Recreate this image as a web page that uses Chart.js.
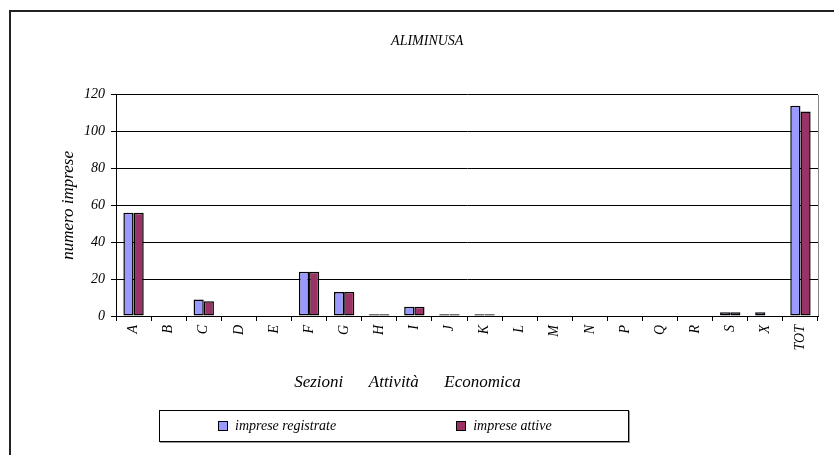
<!DOCTYPE html>
<html>
<head>
<meta charset="utf-8">
<script src="https://cdn.jsdelivr.net/npm/chart.js@4"></script>
<style>
  html, body { margin: 0; padding: 0; background: #fff; overflow: hidden; }
  #frame { position: absolute; left: 9px; top: 10px; width: 900px; height: 500px;
           border-top: 2px solid #222; border-left: 2px solid #222; }
  #wrap { position: absolute; left: 11px; top: 12px; width: 823px; height: 399px; }
  #legend { position: absolute; left: 159px; top: 410px; width: 468px; height: 30px;
            border: 1px solid #000; box-shadow: 1px 1px 0 #999; background: #fff;
            font: italic 14px "Liberation Serif", "Times New Roman", serif; color: #000; }
  #legend ul { list-style: none; margin: 0; padding: 0 0 0 58px; height: 100%;
               display: flex; align-items: center; gap: 120px; }
  #legend li { display: flex; align-items: center; }
  #legend .sw { display: inline-block; width: 10px; height: 10px; box-sizing: border-box;
                border: 1px solid #000; margin-right: 7px; }
</style>
</head>
<body>
<div id="frame"></div>
<div id="wrap"><canvas id="chart"></canvas></div>
<div id="legend"></div>
<script>
// sezioni di attività economica
const categories = ['A', 'B', 'C', 'D', 'E', 'F', 'G', 'H', 'I', 'J', 'K', 'L', 'M', 'N', 'P', 'Q', 'R', 'S', 'X', 'TOT'];
const registrate = [56, 0, 9, 0, 0, 24, 13, 1, 5, 1, 1, 0, 0, 0, 0, 0, 0, 2, 2, 114];
const attive = [56, 0, 8, 0, 0, 24, 13, 1, 5, 1, 1, 0, 0, 0, 0, 0, 0, 2, 0, 111];
const yTicks = [0, 20, 40, 60, 80, 100, 120];

const serif = '"Liberation Serif", "Times New Roman", serif';

// legend drawn as html, like the box under the excel chart
const htmlLegend = {
  id: 'htmlLegend',
  afterUpdate(chart) {
    const box = document.getElementById('legend');
    box.innerHTML = '';
    const ul = document.createElement('ul');
    const items = chart.options.plugins.legend.labels.generateLabels(chart);
    items.forEach(item => {
      const li = document.createElement('li');
      const sw = document.createElement('span');
      sw.className = 'sw';
      sw.style.background = item.fillStyle;
      li.appendChild(sw);
      li.appendChild(document.createTextNode(item.text));
      ul.appendChild(li);
    });
    box.appendChild(ul);
  }
};

// grey line on the right side of the plot
const plotEdge = {
  id: 'plotEdge',
  beforeDatasetsDraw(chart) {
    const { ctx, chartArea } = chart;
    ctx.save();
    ctx.strokeStyle = '#888';
    ctx.lineWidth = 1;
    ctx.beginPath();
    ctx.moveTo(Math.round(chartArea.right) + 0.5, chartArea.top);
    ctx.lineTo(Math.round(chartArea.right) + 0.5, chartArea.bottom);
    ctx.stroke();
    ctx.restore();
  }
};

const barStyle = {
  borderColor: '#000', borderWidth: 1.5, borderSkipped: false,
  categoryPercentage: 0.58, barPercentage: 1
};

new Chart(document.getElementById('chart'), {
  type: 'bar',
  data: {
    labels: categories,
    datasets: [
      { label: 'imprese registrate', data: registrate, backgroundColor: '#9999FF', ...barStyle },
      { label: 'imprese attive', data: attive, backgroundColor: '#993366', ...barStyle }
    ]
  },
  options: {
    responsive: true,
    maintainAspectRatio: false,
    animation: false,
    layout: { padding: { left: 43, right: 16, top: 0, bottom: 16 } },
    plugins: {
      legend: { display: false },
      tooltip: { enabled: false },
      title: {
        display: true,
        text: 'ALIMINUSA' + '\u00a0'.repeat(5),
        color: '#000',
        font: { family: serif, size: 14, style: 'italic', weight: 'normal' },
        padding: { top: 21, bottom: 45 }
      }
    },
    scales: {
      x: {
        grid: { offset: true, drawOnChartArea: false, color: '#000', tickLength: 5 },
        border: { color: '#000' },
        ticks: {
          color: '#000', minRotation: 90, maxRotation: 90, padding: 4, autoSkip: false,
          font: { family: serif, size: 14, style: 'italic' }
        },
        title: {
          display: true,
          text: 'Sezioni\u00a0\u00a0\u00a0\u00a0\u00a0\u00a0Attività\u00a0\u00a0\u00a0\u00a0\u00a0\u00a0Economica' + '\u00a0'.repeat(28),
          color: '#000',
          font: { family: serif, size: 17, style: 'italic' },
          padding: { top: 0, bottom: 2 }
        },
        afterFit(scale) { scale.height = 79; }
      },
      y: {
        min: yTicks[0],
        max: yTicks[yTicks.length - 1],
        afterBuildTicks(scale) { scale.ticks = yTicks.map(v => ({ value: v })); },
        grid: { color: '#000', tickLength: 5 },
        border: { color: '#000' },
        ticks: {
          color: '#000', padding: 6,
          font: { family: serif, size: 14, style: 'italic' }
        },
        title: {
          display: true,
          text: 'numero imprese',
          color: '#000',
          font: { family: serif, size: 17, style: 'italic' },
          padding: { top: 4, bottom: 0 }
        },
        afterFit(scale) { scale.width = 62; }
      }
    }
  },
  plugins: [htmlLegend, plotEdge]
});
</script>
</body>
</html>
